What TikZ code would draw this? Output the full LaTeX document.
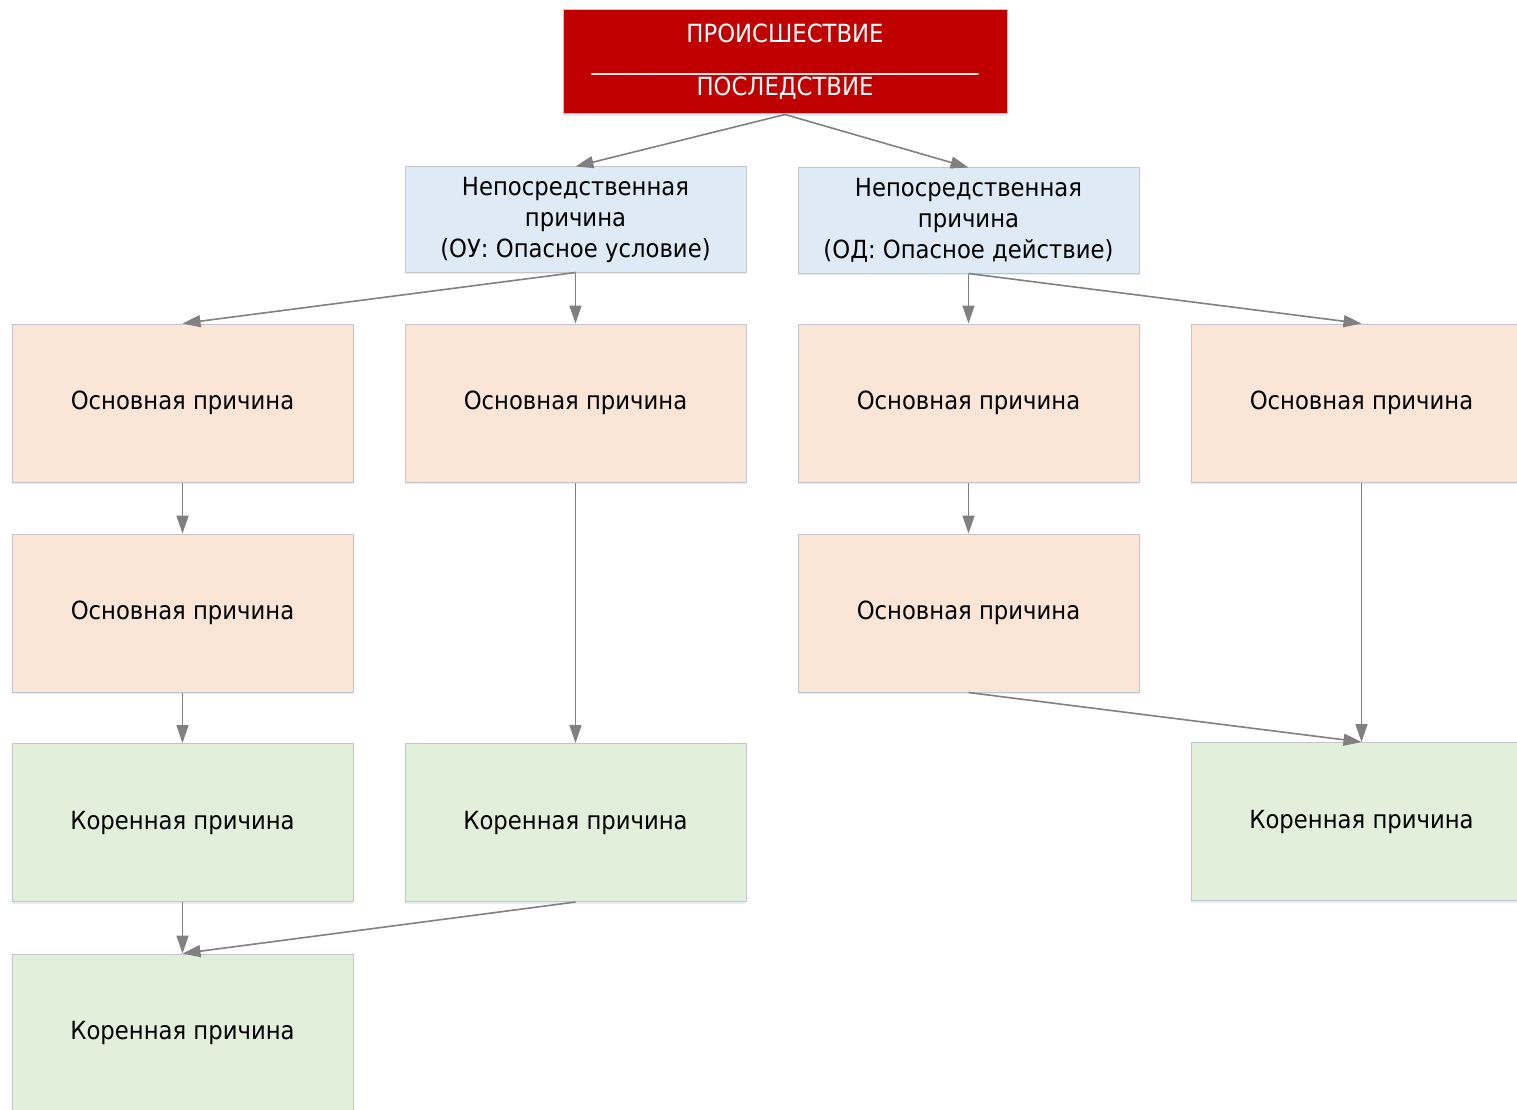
\documentclass[tikz,border=0pt]{standalone}
\usepackage{fontspec}
\setmainfont{DejaVu Sans}[FakeStretch=0.91]
\usepackage{tikz}
\usetikzlibrary{arrows.meta, shadows}
\definecolor{incred}{RGB}{192,0,0}
\definecolor{immblue}{RGB}{222,234,246}
\definecolor{basicorange}{RGB}{251,229,214}
\definecolor{rootgreen}{RGB}{226,239,218}
\definecolor{framegray}{RGB}{195,197,202}
\definecolor{edgegray}{RGB}{128,128,128}

\begin{document}
\begin{tikzpicture}[x=1pt, y=-1pt]
	\tikzset{box/.style={draw=framegray, line width=1pt, rectangle, inner sep=0pt, align=center,
			minimum width=341pt, minimum height=158pt,
			font=\fontsize{25}{31}\selectfont,
			drop shadow={shadow xshift=0pt, shadow yshift=-2pt, fill=immblue, opacity=0.8}}}
	\tikzset{incident/.style={box, fill=incred, text=white, minimum width=444pt, minimum height=104pt,
			font=\fontsize{25}{26.5}\selectfont}}
	\tikzset{immediate/.style={box, fill=immblue, minimum height=105pt}}
	\tikzset{basic/.style={box, fill=basicorange}}
	\tikzset{root/.style={box, fill=rootgreen}}
	\tikzset{edge/.style={-{Triangle[length=18pt, width=12pt]}, draw=edgegray, fill=edgegray, line width=1.6pt}}
	
	\useasboundingbox (0,0) rectangle (1517,1110);
	\clip (0,0) rectangle (1517,1110);
	
	\node(top) at (785,62) [incident] {ПРОИСШЕСТВИЕ\\\_\_\_\_\_\_\_\_\_\_\_\_\_\_\_\_\_\_\_\_\_\_\_\_\_\_\_\_\_\_\_\_\_\_\\ПОСЛЕДСТВИЕ};
	
	\node(im1) at (575.5,219.5) [immediate] {Непосредственная\\причина\\(ОУ: Опасное условие)};
	\node(im2) at (968.5,220.5) [immediate] {Непосредственная\\причина\\(ОД: Опасное действие)};
	\draw[edge](top.south) -- (im1.north);
	\draw[edge](top.south) -- (im2.north);
	
	\node(basic1) at (182.5,403) [basic] {Основная причина};
	\node(basic2) at (575.5,403) [basic] {Основная причина};
	\node(basic3) at (968.5,403) [basic] {Основная причина};
	\node(basic4) at (1361.5,403) [basic] {Основная причина};
	\draw[edge](im1.south) -- (basic1.north);
	\draw[edge](im1.south) -- (basic2.north);
	\draw[edge](im2.south) -- (basic3.north);
	\draw[edge](im2.south) -- (basic4.north);
	
	\node(basic5) at (182.5,613) [basic] {Основная причина};
	\node(basic6) at (968.5,613) [basic] {Основная причина};
	\draw[edge](basic1) -- (basic5);
	\draw[edge](basic3) -- (basic6);
	
	\node(root1) at (182.5,822.5) [root] {Коренная причина};
	\node(root2) at (575.5,822.5) [root] {Коренная причина};
	\node(root3) at (1361.5,821.5) [root] {Коренная причина};
	\draw[edge](basic5) -- (root1);
	\draw[edge](basic2) -- (root2);
	\draw[edge](basic4) -- (root3);
	\draw[edge](basic6.south) -- (root3.north);
	
	\node(root4) at (182.5,1033) [root] {Коренная причина};
	\draw[edge](root1) -- (root4);
	\draw[edge](root2.south) -- (root4.north);
	
\end{tikzpicture}
\end{document}
